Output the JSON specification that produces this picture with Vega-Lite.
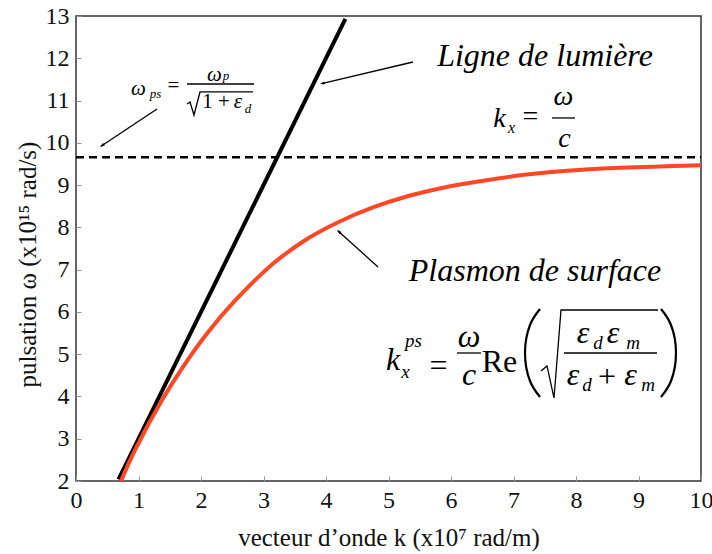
{
  "$schema": "https://vega.github.io/schema/vega-lite/v6.json",
  "width": 625,
  "height": 465,
  "autosize": {"type": "none"},
  "padding": {"left": 76, "top": 16, "right": 11, "bottom": 73},
  "background": "white",
  "config": {
    "view": {"stroke": "#333", "strokeWidth": 1.5},
    "font": "'Liberation Serif', 'Times New Roman', Times, serif",
    "style": {
      "guide-label": {"font": "'Liberation Serif', 'Times New Roman', Times, serif"},
      "guide-title": {"font": "'Liberation Serif', 'Times New Roman', Times, serif"}
    },
    "axis": {
      "labelFont": "'Liberation Serif', 'Times New Roman', Times, serif",
      "titleFont": "'Liberation Serif', 'Times New Roman', Times, serif",
      "labelColor": "#111",
      "titleColor": "#111",
      "titleFontWeight": "normal",
      "labelFontSize": 24,
      "titleFontSize": 25,
      "labelFlush": false,
      "labelOverlap": false,
      "grid": false,
      "domain": false,
      "tickColor": "#8a93a8",
      "tickSize": -5,
      "tickWidth": 1
    },
    "text": {"font": "'Liberation Serif', 'Times New Roman', Times, serif", "color": "black"}
  },
  "datasets": {
    "red": [
      {"k": 0.72, "w": 2.0}, {"k": 0.94, "w": 2.72}, {"k": 1.37, "w": 3.90}, {"k": 1.72, "w": 4.72},
      {"k": 2.09, "w": 5.48}, {"k": 2.54, "w": 6.26}, {"k": 3.16, "w": 7.15}, {"k": 3.69, "w": 7.72},
      {"k": 4.22, "w": 8.14}, {"k": 4.75, "w": 8.47}, {"k": 5.29, "w": 8.73}, {"k": 5.82, "w": 8.92},
      {"k": 6.46, "w": 9.09}, {"k": 7.21, "w": 9.25}, {"k": 8.28, "w": 9.38}, {"k": 9.34, "w": 9.44},
      {"k": 10.0, "w": 9.47}
    ],
    "strokes": [
      {"g": "a1", "o": 0, "k": 1.296, "w": 10.801}, {"g": "a1", "o": 1, "k": 0.40, "w": 9.92},
      {"g": "a2", "o": 0, "k": 5.392, "w": 11.912}, {"g": "a2", "o": 1, "k": 3.93, "w": 11.40},
      {"g": "a3", "o": 0, "k": 4.832, "w": 7.063}, {"g": "a3", "o": 1, "k": 4.19, "w": 7.92},
      {"g": "b1", "o": 0, "k": 1.776, "w": 11.392}, {"g": "b1", "o": 1, "k": 2.848, "w": 11.392},
      {"g": "s1", "o": 0, "k": 1.776, "w": 10.919}, {"g": "s1", "o": 1, "k": 1.824, "w": 10.966},
      {"g": "s1", "o": 2, "k": 1.888, "w": 10.658}, {"g": "s1", "o": 3, "k": 1.984, "w": 11.203},
      {"g": "s1", "o": 4, "k": 2.832, "w": 11.203},
      {"g": "b2", "o": 0, "k": 7.616, "w": 10.588}, {"g": "b2", "o": 1, "k": 7.984, "w": 10.588},
      {"g": "b3", "o": 0, "k": 6.096, "w": 5.028}, {"g": "b3", "o": 1, "k": 6.48, "w": 5.028},
      {"g": "s3", "o": 0, "k": 7.44, "w": 4.602}, {"g": "s3", "o": 1, "k": 7.536, "w": 4.721},
      {"g": "s3", "o": 2, "k": 7.648, "w": 3.964}, {"g": "s3", "o": 3, "k": 7.76, "w": 6.045},
      {"g": "s3", "o": 4, "k": 9.312, "w": 6.045},
      {"g": "f3", "o": 0, "k": 7.808, "w": 5.028}, {"g": "f3", "o": 1, "k": 9.296, "w": 5.028}
    ],
    "parens": [
      {"g": "l", "o": 0, "k": 7.424, "w": 6.069}, {"g": "l", "o": 1, "k": 7.264, "w": 5.690},
      {"g": "l", "o": 2, "k": 7.184, "w": 5.028}, {"g": "l", "o": 3, "k": 7.264, "w": 4.366},
      {"g": "l", "o": 4, "k": 7.424, "w": 3.987},
      {"g": "r", "o": 0, "k": 9.36, "w": 6.069}, {"g": "r", "o": 1, "k": 9.52, "w": 5.690},
      {"g": "r", "o": 2, "k": 9.6, "w": 5.028}, {"g": "r", "o": 3, "k": 9.52, "w": 4.366},
      {"g": "r", "o": 4, "k": 9.36, "w": 3.987}
    ]
  },
  "encoding": {
    "x": {
      "field": "k", "type": "quantitative",
      "scale": {"domain": [0, 10], "nice": false, "zero": false},
      "axis": {"values": [0,1,2,3,4,5,6,7,8,9,10], "labelPadding": 12, "titlePadding": 13, "title": "vecteur d’onde k (x10⁷ rad/m)"}
    },
    "y": {
      "field": "w", "type": "quantitative",
      "scale": {"domain": [2, 13], "nice": false, "zero": false},
      "axis": {"values": [2,3,4,5,6,7,8,9,10,11,12,13], "labelPadding": 12, "titlePadding": 5, "titleY": 248, "title": "pulsation ω (x10¹⁵ rad/s)"}
    }
  },
  "layer": [
    {
      "data": {"values": [{"k": 0, "w": 9.66}, {"k": 10, "w": 9.66}]},
      "mark": {"type": "line", "color": "black", "strokeWidth": 2.5, "strokeDash": [8, 5]},
      "encoding": {}
    },
    {
      "data": {"values": [{"k": 0.68, "w": 2.04}, {"k": 4.31, "w": 12.93}]},
      "mark": {"type": "line", "color": "black", "strokeWidth": 4},
      "encoding": {}
    },
    {
      "data": {"name": "red"},
      "mark": {"type": "line", "color": "#ff4726", "strokeWidth": 4, "interpolate": "catmull-rom"},
      "encoding": {}
    },
    {
      "data": {"name": "strokes"},
      "mark": {"type": "line", "color": "black", "strokeWidth": 1.3},
      "encoding": {"detail": {"field": "g"}, "order": {"field": "o", "type": "quantitative"}}
    },
    {
      "data": {"name": "parens"},
      "mark": {"type": "line", "color": "black", "strokeWidth": 2.2, "interpolate": "natural"},
      "encoding": {"detail": {"field": "g"}, "order": {"field": "o", "type": "quantitative"}}
    },
    {
      "data": {"values": [{"k": 0.384, "w": 9.902}]},
      "mark": {"type": "point", "shape": "M0,0 L-0.32,1 L0.32,1 Z", "filled": true, "color": "black", "opacity": 1, "size": 90, "angle": 236.3}
    },
    {
      "data": {"values": [{"k": 3.904, "w": 11.392}]},
      "mark": {"type": "point", "shape": "M0,0 L-0.32,1 L0.32,1 Z", "filled": true, "color": "black", "opacity": 1, "size": 90, "angle": 256.7}
    },
    {
      "data": {"values": [{"k": 4.176, "w": 7.938}]},
      "mark": {"type": "point", "shape": "M0,0 L-0.32,1 L0.32,1 Z", "filled": true, "color": "black", "opacity": 1, "size": 90, "angle": 311.3}
    },
    {
      "data": {"values": [{"k": 7.504, "w": 11.818, "t": "Ligne de lumière"}, {"k": 7.344, "w": 6.731, "t": "Plasmon de surface"}]},
      "mark": {"type": "text", "align": "center", "baseline": "alphabetic", "fontStyle": "italic", "fontSize": 32},
      "encoding": {"text": {"field": "t"}}
    },
    {
      "data": {"values": [{"k": 1.0, "w": 11.131, "t": "ω"}, {"k": 2.216, "w": 11.463, "t": "ω"}, {"k": 2.592, "w": 10.824, "t": "ε"}]},
      "mark": {"type": "text", "align": "center", "baseline": "alphabetic", "fontStyle": "italic", "fontSize": 21},
      "encoding": {"text": {"field": "t"}}
    },
    {
      "data": {"values": [{"k": 2.24, "w": 10.824, "t": "1 +"}]},
      "mark": {"type": "text", "align": "center", "baseline": "alphabetic", "fontSize": 21},
      "encoding": {"text": {"field": "t"}}
    },
    {
      "data": {"values": [{"k": 1.56, "w": 11.345, "t": "="}]},
      "mark": {"type": "text", "align": "center", "baseline": "middle", "fontSize": 21},
      "encoding": {"text": {"field": "t"}}
    },
    {
      "data": {"values": [{"k": 1.272, "w": 11.061, "t": "ps"}, {"k": 2.4, "w": 11.487, "t": "p"}, {"k": 2.752, "w": 10.706, "t": "d"}]},
      "mark": {"type": "text", "align": "center", "baseline": "alphabetic", "fontStyle": "italic", "fontSize": 13},
      "encoding": {"text": {"field": "t"}}
    },
    {
      "data": {"values": [{"k": 6.776, "w": 10.375, "t": "k"}, {"k": 7.8, "w": 10.895, "t": "ω"}, {"k": 7.816, "w": 9.901, "t": "c"}]},
      "mark": {"type": "text", "align": "center", "baseline": "alphabetic", "fontStyle": "italic", "fontSize": 28},
      "encoding": {"text": {"field": "t"}}
    },
    {
      "data": {"values": [{"k": 6.968, "w": 10.233, "t": "x"}]},
      "mark": {"type": "text", "align": "center", "baseline": "alphabetic", "fontStyle": "italic", "fontSize": 16},
      "encoding": {"text": {"field": "t"}}
    },
    {
      "data": {"values": [{"k": 7.272, "w": 10.611, "t": "="}]},
      "mark": {"type": "text", "align": "center", "baseline": "middle", "fontSize": 28},
      "encoding": {"text": {"field": "t"}}
    },
    {
      "data": {"values": [
        {"k": 5.072, "w": 4.626, "t": "k"}, {"k": 6.288, "w": 5.170, "t": "ω"}, {"k": 6.288, "w": 4.271, "t": "c"},
        {"k": 8.112, "w": 5.265, "t": "ε"}, {"k": 8.592, "w": 5.265, "t": "ε"},
        {"k": 7.952, "w": 4.271, "t": "ε"}, {"k": 8.872, "w": 4.271, "t": "ε"}
      ]},
      "mark": {"type": "text", "align": "center", "baseline": "alphabetic", "fontStyle": "italic", "fontSize": 32},
      "encoding": {"text": {"field": "t"}}
    },
    {
      "data": {"values": [
        {"k": 5.4, "w": 5.170, "t": "ps"}, {"k": 5.272, "w": 4.437, "t": "x"},
        {"k": 8.352, "w": 5.123, "t": "d"}, {"k": 8.912, "w": 5.123, "t": "m"},
        {"k": 8.176, "w": 4.129, "t": "d"}, {"k": 9.152, "w": 4.129, "t": "m"}
      ]},
      "mark": {"type": "text", "align": "center", "baseline": "alphabetic", "fontStyle": "italic", "fontSize": 19},
      "encoding": {"text": {"field": "t"}}
    },
    {
      "data": {"values": [{"k": 6.776, "w": 4.579, "t": "Re"}]},
      "mark": {"type": "text", "align": "center", "baseline": "alphabetic", "fontSize": 32},
      "encoding": {"text": {"field": "t"}}
    },
    {
      "data": {"values": [{"k": 5.8, "w": 4.721, "t": "="}, {"k": 8.496, "w": 4.460, "t": "+"}]},
      "mark": {"type": "text", "align": "center", "baseline": "middle", "fontSize": 32},
      "encoding": {"text": {"field": "t"}}
    }
  ]
}
